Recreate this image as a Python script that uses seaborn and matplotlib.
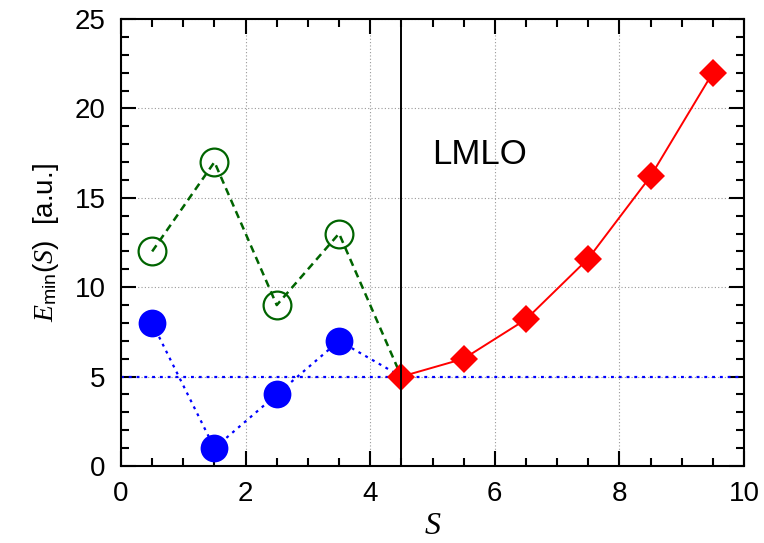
import matplotlib
matplotlib.use("Agg")
import matplotlib.pyplot as plt
from matplotlib.ticker import MultipleLocator
import seaborn as sns
import pandas as pd

# data
s_left = [0.5, 1.5, 2.5, 3.5, 4.5]
e_green = [12, 17, 9, 13, 5]
e_blue = [8, 1, 4, 7, 5]
s_right = [4.5, 5.5, 6.5, 7.5, 8.5, 9.5]
e_red = [5, 6, 8.2, 11.6, 16.2, 22]
e_ref = 5
s_lmlo = 4.5
x_ticks = [0, 2, 4, 6, 8, 10]
y_ticks = [0, 5, 10, 15, 20, 25]

sns.set_theme(style="ticks")
plt.rcParams["font.family"] = ["Liberation Sans", "DejaVu Sans"]
plt.rcParams["mathtext.fontset"] = "custom"
plt.rcParams["mathtext.rm"] = "Liberation Sans"
plt.rcParams["mathtext.it"] = "Liberation Serif:italic"
plt.rcParams["text.color"] = "black"
plt.rcParams["axes.labelcolor"] = "black"
plt.rcParams["xtick.color"] = "black"
plt.rcParams["ytick.color"] = "black"

fig = plt.figure(figsize=(7.64, 5.43), dpi=100)
ax = fig.add_axes([121 / 764, 1 - 466 / 543, (744 - 121) / 764, (466 - 19) / 543])

# horizontal reference line
ax.axhline(e_ref, color="#0000ff", lw=1.6, linestyle=(0, (1.3, 2.2)), zorder=2)

df_l = pd.DataFrame({"S": s_left, "green": e_green, "blue": e_blue})
df_r = pd.DataFrame({"S": s_right, "red": e_red})

sns.lineplot(data=df_l, x="S", y="blue", ax=ax, color="#0000ff", lw=1.6,
             linestyle=(0, (1.3, 2.2)), marker="o", markersize=20,
             markevery=[0, 1, 2, 3], markerfacecolor="#0000ff",
             markeredgecolor="#0000ff", markeredgewidth=0, zorder=3)
sns.lineplot(data=df_l, x="S", y="green", ax=ax, color="#006400", lw=1.8,
             linestyle=(0, (3, 2)), marker="o", markersize=20,
             markevery=[0, 1, 2, 3], markerfacecolor="none",
             markeredgecolor="#006400", markeredgewidth=1.6, zorder=4)
sns.lineplot(data=df_r, x="S", y="red", ax=ax, color="#ff0000", lw=1.4,
             marker="D", markersize=14, markerfacecolor="#ff0000",
             markeredgecolor="#ff0000", markeredgewidth=0, zorder=5)

ax.axvline(s_lmlo, color="black", lw=1.4, zorder=6)

ax.text(5.0, 17.4, "LMLO", fontsize=25, color="black", ha="left", va="center", zorder=7)

ax.set_xlim(0, 10)
ax.set_ylim(0, 25)
ax.set_xticks(x_ticks)
ax.set_yticks(y_ticks)
ax.set_xticklabels([str(t) for t in x_ticks])
ax.set_yticklabels([str(t) for t in y_ticks])
ax.xaxis.set_minor_locator(MultipleLocator(0.5))
ax.yaxis.set_minor_locator(MultipleLocator(1))
ax.tick_params(which="both", direction="in", top=True, right=True,
               width=1.5, color="black", labelcolor="black")
ax.tick_params(which="major", length=11, labelsize=20, pad=11)
ax.tick_params(which="minor", length=6)
ax.grid(True, which="major", color="#999999", linestyle=(0, (1, 2)), lw=0.8, zorder=0)
ax.set_axisbelow(True)
for sp in ax.spines.values():
    sp.set_visible(True)
    sp.set_linewidth(1.5)
    sp.set_color("black")

ax.set_xlabel(r"$S$", fontsize=23, labelpad=3)
ax.set_ylabel(r"$E_{\mathrm{min}}(S)$  [a.u.]", fontsize=20, labelpad=10)

fig.savefig("out.png", dpi=100)
